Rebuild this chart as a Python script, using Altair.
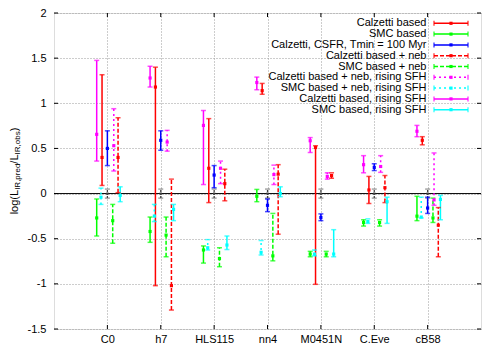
import json
import altair as alt
import pandas as pd

categories = ["C0", "h7", "HLS115", "nn4", "M0451N", "C.Eye", "cB58"]
series_names = [
    "Calzetti based",
    "SMC based",
    "Calzetti, CSFR, Tmin = 100 Myr",
    "Calzetti based + neb",
    "SMC based + neb",
    "Calzetti based + neb, rising SFH",
    "SMC based + neb, rising SFH",
    "Calzetti based, rising SFH",
    "SMC based, rising SFH",
]

calz_val = [0.40, 1.18, 0.28, 1.14, 0.51, 0.04, 0.59]
calz_lo = [0.09, -1.02, -0.10, 1.10, -1.005, -0.11, 0.54]
calz_hi = [1.316, 1.40, 0.83, 1.22, 0.53, 0.19, 0.63]

smc_val = [-0.27, -0.42, -0.625, -0.03, -0.67, -0.32, -0.25]
smc_lo = [-0.47, -0.54, -0.77, -0.09, -0.70, -0.36, -0.30]
smc_hi = [-0.06, -0.26, -0.58, 0.046, -0.64, -0.29, -0.03]

csfr_val = [0.50, 0.59, 0.205, -0.13, -0.265, 0.29, -0.16]
csfr_lo = [0.31, 0.48, 0.065, -0.20, -0.30, 0.255, -0.22]
csfr_hi = [0.695, 0.695, 0.31, -0.06, -0.225, 0.33, -0.04]

calzneb_val = [0.40, -1.02, 0.11, 0.215, 0.20, 0.065, -0.35]
calzneb_lo = [0.01, -1.29, -0.08, -0.45, 0.17, -0.10, -0.70]
calzneb_hi = [0.84, 0.16, 0.27, 0.32, 0.23, 0.20, -0.155]

smcneb_val = [-0.30, -0.46, -0.72, -0.69, -0.67, -0.32, -0.27]
smcneb_lo = [-0.55, -0.70, -0.81, -0.745, -0.70, -0.36, -0.32]
smcneb_hi = [-0.12, -0.26, -0.60, -0.22, -0.64, -0.29, -0.05]

calznebr_val = [0.53, 0.57, 0.28, 0.21, 0.19, 0.30, -0.07]
calznebr_lo = [0.25, 0.47, 0.11, 0.10, 0.16, 0.235, -0.13]
calznebr_hi = [0.94, 0.70, 0.36, 0.315, 0.23, 0.42, 0.45]

smcnebr_val = [-0.04, -0.25, -0.60, -0.65, -0.67, -0.31, -0.26]
smcnebr_lo = [-0.12, -0.31, -0.625, -0.68, -0.69, -0.33, -0.27]
smcnebr_hi = [0.06, -0.12, -0.51, -0.52, -0.625, -0.28, -0.04]

calzr_val = [0.656, 1.28, 0.755, 1.23, 0.585, 0.32, 0.69]
calzr_lo = [0.36, 1.18, 0.10, 1.15, 0.455, 0.23, 0.63]
calzr_hi = [1.475, 1.41, 0.92, 1.29, 0.62, 0.42, 0.755]

smcr_val = [-0.02, -0.175, -0.57, 0.0, -0.67, -0.09, -0.065]
smcr_lo = [-0.09, -0.30, -0.62, -0.035, -0.70, -0.33, -0.29]
smcr_hi = [0.075, -0.12, -0.47, 0.075, -0.40, -0.04, -0.02]

ref_val = [0.0] * 7
ref_lo = [-0.05] * 7
ref_hi = [0.05] * 7

values = [calz_val, smc_val, csfr_val, calzneb_val, smcneb_val, calznebr_val, smcnebr_val, calzr_val, smcr_val]
lows = [calz_lo, smc_lo, csfr_lo, calzneb_lo, smcneb_lo, calznebr_lo, smcnebr_lo, calzr_lo, smcr_lo]
highs = [calz_hi, smc_hi, csfr_hi, calzneb_hi, smcneb_hi, calznebr_hi, smcnebr_hi, calzr_hi, smcr_hi]

# styling / layout
offsets = [-0.1, -0.2, 0.0, 0.2, 0.1, 0.12, -0.12, -0.2, 0.24]
colors = ["#ff0000", "#00ff00", "#0000ff", "#ff0000", "#00ff00", "#ff00ff", "#00ffff", "#ff00ff", "#00ffff"]
dashes = [[1, 0], [1, 0], [1, 0], [4, 2], [4, 2], [2, 3], [2, 3], [1, 0], [1, 0]]

W, H = 427, 316
XMIN, XMAX = 0, 8
YMIN, YMAX = -1.5, 2.0
FONT = "Liberation Sans"

rows = []
for si, name in enumerate(series_names):
    for ci in range(len(categories)):
        rows.append(dict(series=name, order=si, x=ci + 1 + offsets[si],
                         val=values[si][ci], lo=lows[si][ci], hi=highs[si][ci]))
df = pd.DataFrame(rows)

ref_df = pd.DataFrame(dict(x=list(range(1, 8)), val=ref_val, lo=ref_lo, hi=ref_hi))

xs = alt.Scale(domain=[XMIN, XMAX], nice=False, zero=False)
ys = alt.Scale(domain=[YMIN, YMAX], nice=False, zero=False)
cscale = alt.Scale(domain=series_names, range=colors)
dscale = alt.Scale(domain=series_names, range=dashes)

xlab = json.dumps(["", *categories, ""])
X = alt.X("x:Q", scale=xs, title=None,
          axis=alt.Axis(values=list(range(1, 8)), labelExpr=f"{xlab}[datum.value]",
                        grid=True, gridDash=[1, 2], gridColor="#9a9a9a", domain=False,
                        ticks=False, labelPadding=4, labelFontSize=11, labelFont=FONT,
                        labelColor="black"))
Y = alt.Y("val:Q", scale=ys, title=None,
          axis=alt.Axis(values=[-1.5, -1, -0.5, 0, 0.5, 1, 1.5, 2], labelExpr="'' + datum.value",
                        grid=True, gridDash=[1, 2], gridColor="#9a9a9a", domain=False,
                        ticks=False, labelPadding=8, labelFontSize=11, labelFont=FONT,
                        labelColor="black"))

col = alt.Color("series:N", scale=cscale, legend=None)
dash = alt.StrokeDash("series:N", scale=dscale, legend=None)

base = alt.Chart(df)
grid_layer = alt.Chart(pd.DataFrame(dict(x=[0.0], val=[0.0]))).mark_point(opacity=0).encode(x=X, y=Y)

zero = alt.Chart(pd.DataFrame(dict(v=[0.0]))).mark_rule(color="black", strokeWidth=1).encode(
    y=alt.Y("v:Q", scale=ys))

bars = base.mark_rule(strokeWidth=1.5).encode(
    x=alt.X("x:Q", scale=xs), y=alt.Y("lo:Q", scale=ys), y2="hi:Q", color=col, strokeDash=dash)
cap_lo = base.mark_tick(orient="horizontal", size=5, thickness=1.5).encode(
    x=alt.X("x:Q", scale=xs), y=alt.Y("lo:Q", scale=ys), color=col)
cap_hi = base.mark_tick(orient="horizontal", size=5, thickness=1.5).encode(
    x=alt.X("x:Q", scale=xs), y=alt.Y("hi:Q", scale=ys), color=col)
pts = base.mark_square(size=10, opacity=1).encode(
    x=alt.X("x:Q", scale=xs), y=alt.Y("val:Q", scale=ys), color=col)

rbase = alt.Chart(ref_df)
ref_bar = rbase.mark_rule(strokeWidth=1.2, color="#404040", strokeDash=[2, 1]).encode(
    x=alt.X("x:Q", scale=xs), y=alt.Y("lo:Q", scale=ys), y2="hi:Q")
ref_cap_lo = rbase.mark_tick(orient="horizontal", size=5, thickness=1, color="#404040").encode(
    x=alt.X("x:Q", scale=xs), y=alt.Y("lo:Q", scale=ys))
ref_cap_hi = rbase.mark_tick(orient="horizontal", size=5, thickness=1, color="#404040").encode(
    x=alt.X("x:Q", scale=xs), y=alt.Y("hi:Q", scale=ys))
ref_pt = rbase.mark_square(size=5, color="#404040", opacity=1).encode(
    x=alt.X("x:Q", scale=xs), y=alt.Y("val:Q", scale=ys))

# legend (positions in data units)
def px2x(p):
    return XMIN + p / W * (XMAX - XMIN)

def px2y(p):
    return YMAX - p / H * (YMAX - YMIN)

leg = pd.DataFrame(dict(
    series=series_names,
    ty=[px2y(10.3 + 10.8 * i) for i in range(len(series_names))],
    tx=[px2x(372.5)] * len(series_names),
    lx1=[px2x(380)] * len(series_names),
    lx2=[px2x(414)] * len(series_names),
    lxc=[px2x(397)] * len(series_names),
))
lbase = alt.Chart(leg)
leg_text = lbase.mark_text(align="right", baseline="middle", fontSize=11, font=FONT, color="black").encode(
    x=alt.X("tx:Q", scale=xs), y=alt.Y("ty:Q", scale=ys), text="series:N")
leg_line = lbase.mark_rule(strokeWidth=1.5).encode(
    x=alt.X("lx1:Q", scale=xs), x2="lx2:Q", y=alt.Y("ty:Q", scale=ys), color=col, strokeDash=dash)
leg_cap1 = lbase.mark_tick(orient="vertical", size=5, thickness=1.5).encode(
    x=alt.X("lx1:Q", scale=xs), y=alt.Y("ty:Q", scale=ys), color=col)
leg_cap2 = lbase.mark_tick(orient="vertical", size=5, thickness=1.5).encode(
    x=alt.X("lx2:Q", scale=xs), y=alt.Y("ty:Q", scale=ys), color=col)
leg_pt = lbase.mark_square(size=10, opacity=1).encode(
    x=alt.X("lxc:Q", scale=xs), y=alt.Y("ty:Q", scale=ys), color=col)

# inward ticks
yt = pd.DataFrame(dict(v=[-1.5, -1, -0.5, 0, 0.5, 1, 1.5, 2]))
xt = pd.DataFrame(dict(v=list(range(1, 8))))
tl = 4
tick_l = alt.Chart(yt).mark_rule(color="black").encode(
    y=alt.Y("v:Q", scale=ys), x=alt.value(0), x2=alt.value(tl))
tick_r = alt.Chart(yt).mark_rule(color="black").encode(
    y=alt.Y("v:Q", scale=ys), x=alt.value(W), x2=alt.value(W - tl))
tick_b = alt.Chart(xt).mark_rule(color="black").encode(
    x=alt.X("v:Q", scale=xs), y=alt.value(H), y2=alt.value(H - tl))
tick_t = alt.Chart(xt).mark_rule(color="black").encode(
    x=alt.X("v:Q", scale=xs), y=alt.value(0), y2=alt.value(tl))

# y-axis title with subscripts, rotated
pieces = [("log(L", 11, 0, 24.5), ("IR,pred", 8, 3, 26.2), ("/L", 11, 0, 9.2), ("IR,obs", 8, 3, 23.1), (")", 11, 0, 3.7)]
total = sum(p[3] for p in pieces)
start = H / 2 + total / 2
title_layers = []
pos = start
for txt, fs, dx, w in pieces:
    title_layers.append(
        alt.Chart(pd.DataFrame(dict(t=[txt]))).mark_text(
            angle=270, align="left", baseline="middle", fontSize=fs, font=FONT, color="black"
        ).encode(x=alt.value(-39 + dx), y=alt.value(pos), text="t:N")
    )
    pos -= w

chart = alt.layer(
    grid_layer, zero,
    ref_bar, ref_cap_lo, ref_cap_hi, ref_pt,
    bars, cap_lo, cap_hi, pts,
    leg_line, leg_cap1, leg_cap2, leg_pt, leg_text,
    tick_l, tick_r, tick_b, tick_t,
    *title_layers,
).properties(
    width=W, height=H,
    autosize=alt.AutoSizeParams(type="none"),
    padding={"left": 46, "top": 5, "right": 12, "bottom": 14},
).configure_view(stroke="black", strokeWidth=1).configure(background="white")

chart.save("out.html", embed_options={"renderer": "svg", "actions": False})
